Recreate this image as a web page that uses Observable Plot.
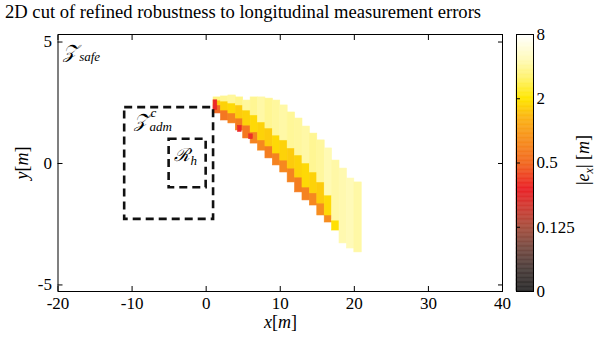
<!DOCTYPE html>
<html><head><meta charset="utf-8">
<script src="https://cdn.jsdelivr.net/npm/d3@7"></script>
<script src="https://cdn.jsdelivr.net/npm/@observablehq/plot@0.6"></script>
<style>
body{margin:0;background:#fff;}
#wrap{position:relative;width:602px;height:338px;overflow:hidden;font-family:"Liberation Serif","Times New Roman","DejaVu Serif",serif;color:#000;}
.abs{position:absolute;white-space:nowrap;}
#title{left:5px;top:1px;font-size:18.6px;}
</style></head><body>
<div id="wrap">
  <div id="main" class="abs" style="left:0;top:0"></div>
  <div id="cbar" class="abs" style="left:0;top:0"></div>
  <div id="title" class="abs">2D cut of refined robustness to longitudinal measurement errors</div>
  <div class="abs" style="left:264px;top:312px;font-size:18px"><i>x</i>[<i>m</i>]</div>
  <div class="abs" style="left:22px;top:163px;font-size:18px;transform:translate(-50%,-50%) rotate(-90deg)"><i>y</i>[<i>m</i>]</div>
  <div class="abs" style="left:585px;top:160px;font-size:18px;transform:translate(-50%,-50%) rotate(-90deg)">|<i>e</i><sub style="font-size:12px"><i>x</i></sub>| [<i>m</i>]</div>
</div>
<script>
// ---- data ----
const colX    = [1,2,3,4,5,6,7,8,9,10,11,12,13,14,15,16,17,18,19,20];
const yBottom = [2.06,1.77,1.65,1.36,1.03,0.82,0.53,0.21,-0.08,-0.37,-0.78,-1.19,-1.52,-1.73,-2.14,-2.43,-2.76,-3.29,-3.50,-3.66];
const yOrange = [2.39,2.18,2.06,1.85,1.56,1.28,0.95,0.70,0.41,0.12,-0.21,-0.58,-0.99,-1.23,-1.65,-2.14,-2.76,-3.29,-3.50,-3.66];
const yYellow = [2.59,2.55,2.47,2.39,2.18,1.98,1.69,1.44,1.15,0.95,0.62,0.33,0.00,-0.37,-0.78,-1.32,-2.35,-3.29,-3.50,-3.66];
const yTop    = [2.72,2.76,2.80,2.72,2.59,2.72,2.72,2.67,2.59,2.39,2.10,1.85,1.52,1.23,0.95,0.62,0.12,-0.21,-0.62,-0.78];
const vOrange = [0.5,0.6,0.7,0.65,0.6,0.7,0.75,0.65,0.7,0.75,0.7,0.65,0.7,0.75,0.8,0.8,0.8,0.8,0.8,0.8];
const vYellow = [1.6,1.7,1.8,1.6,1.7,1.8,1.7,1.6,1.8,1.7,1.6,1.7,1.8,1.7,1.6,1.8,1.9,1.9,1.9,1.9];
const vPale   = [3.5,3.8,4.0,3.6,4.0,3.8,4.2,3.8,4.0,4.2,3.9,4.0,4.2,3.8,4.0,4.5,4.2,4.4,4.6,4.2];
// small red patches: [x1, x2, y1, y2, value]
const redPatches = [[1.0,1.5,2.2,2.6,0.3],[4.3,4.8,1.3,1.55,0.3],[5.8,6.3,1.0,1.2,0.32]];
// dashed boxes
const boxNames = ["Zadm", "Rh"];
const boxX1 = [-11, -5], boxX2 = [1, 0], boxY1 = [-2.3, -1], boxY2 = [2.3, 1];
// axis ticks
const xTicks = [-20,-10,0,10,20,30,40];
const yTicks = [-5,0,5];
const cTicks = [0,0.125,0.5,2,8];

// position on colorbar (0..4): 0 -> 0, 0.125 -> 1, 0.5 -> 2, 2 -> 3, 8 -> 4
const pos = v => v <= 0.125 ? v / 0.125 : 1 + Math.log(v / 0.125) / Math.log(4);
const colorOpts = {
  type: "linear",
  domain: [0, 0.35, 0.7, 1.0, 1.35, 1.6, 2.0, 2.4, 2.7, 3.0, 3.3, 3.6, 4.0],
  range: ["#2b2b2b","#4d403d","#7a4d44","#a8503f","#d43a33","#ea2228","#f26a22","#f7931e","#fbb416","#ffe600","#fff266","#fffab8","#ffffff"]
};

const cells = [];
colX.forEach((x, i) => {
  const bands = [[yBottom[i], yOrange[i], vOrange[i]], [yOrange[i], yYellow[i], vYellow[i]], [yYellow[i], yTop[i], vPale[i]]];
  for (const [a, b, v] of bands) if (b > a) cells.push({x1: x, x2: x + 1, y1: a, y2: b, v});
});
for (const [x1, x2, y1, y2, v] of redPatches) cells.push({x1, x2, y1, y2, v});
const boxes = boxNames.map((n, i) => ({n, x1: boxX1[i], x2: boxX2[i], y1: boxY1[i], y2: boxY2[i]}));

const FF = "'Liberation Serif','Times New Roman','DejaVu Serif',serif";
const font = {fontFamily: FF, fontSize: "17px", background: "transparent", color: "#000"};

const main = Plot.plot({
  width: 602, height: 338,
  marginLeft: 57.5, marginRight: 100, marginTop: 34, marginBottom: 47,
  style: font,
  x: {domain: [-20, 40]},
  y: {domain: [-5.27, 5.31]},
  color: colorOpts,
  marks: [
    Plot.rect(cells, {x1: "x1", x2: "x2", y1: "y1", y2: "y2", fill: d => pos(d.v), stroke: d => pos(d.v), strokeWidth: 0.6}),
    Plot.rect(boxes, {x1: "x1", x2: "x2", y1: "y1", y2: "y2", fill: "none", stroke: "#111", strokeWidth: 2.6, strokeDasharray: "8,5"}),
    Plot.text(["𝒵"], {x: -19.3, y: 4.6, textAnchor: "start", fontSize: 19, fontStyle: "italic"}),
    Plot.text(["safe"], {x: -19.3, y: 4.6, dx: 16, dy: 5, textAnchor: "start", fontSize: 13, fontStyle: "italic"}),
    Plot.text(["𝒵"], {x: -9.8, y: 1.75, textAnchor: "start", fontSize: 19, fontStyle: "italic"}),
    Plot.text(["adm"], {x: -9.8, y: 1.75, dx: 16, dy: 6, textAnchor: "start", fontSize: 13, fontStyle: "italic"}),
    Plot.text(["c"], {x: -9.8, y: 1.75, dx: 17, dy: -8, textAnchor: "start", fontSize: 13, fontStyle: "italic"}),
    Plot.text(["ℛ"], {x: -4.4, y: 0.33, textAnchor: "start", fontSize: 18, fontStyle: "italic"}),
    Plot.text(["h"], {x: -4.4, y: 0.33, dx: 17, dy: 5, textAnchor: "start", fontSize: 13, fontStyle: "italic"}),
    Plot.frame({stroke: "#000", strokeWidth: 1}),
    Plot.axisX(xTicks, {anchor: "bottom", tickSize: 0, tickPadding: 5, tickFormat: d => String(d), fontSize: 17}),
    Plot.axisX(xTicks, {anchor: "bottom", tickSize: -5, tickFormat: () => ""}),
    Plot.axisX(xTicks, {anchor: "top", tickSize: -5, tickFormat: () => ""}),
    Plot.axisY(yTicks, {anchor: "left", tickSize: 0, tickPadding: 6, tickFormat: d => String(d), fontSize: 17}),
    Plot.axisY(yTicks, {anchor: "left", tickSize: -5, tickFormat: () => ""}),
    Plot.axisY(yTicks, {anchor: "right", tickSize: -5, tickFormat: () => ""})
  ]
});
document.getElementById("main").appendChild(main);

const grad = d3.range(0, 4, 0.02).map(t => ({t0: t, t1: t + 0.02}));
const cbar = Plot.plot({
  width: 602, height: 338,
  marginLeft: 516, marginRight: 69, marginTop: 34, marginBottom: 47,
  style: font,
  x: {domain: [0, 1], axis: null},
  y: {domain: [0, 4]},
  color: colorOpts,
  marks: [
    Plot.rect(grad, {x1: 0, x2: 1, y1: "t0", y2: "t1", fill: d => d.t0 + 0.01, stroke: d => d.t0 + 0.01, strokeWidth: 0.5}),
    Plot.frame({stroke: "#000", strokeWidth: 1}),
    Plot.axisY(cTicks.map(pos), {anchor: "right", tickSize: 0, tickPadding: 3, tickFormat: (d, i) => String(cTicks[i]), fontSize: 17}),
    Plot.axisY(cTicks.map(pos), {anchor: "left", tickSize: -4, tickFormat: () => ""})
  ]
});
document.getElementById("cbar").appendChild(cbar);
</script>
</body></html>
